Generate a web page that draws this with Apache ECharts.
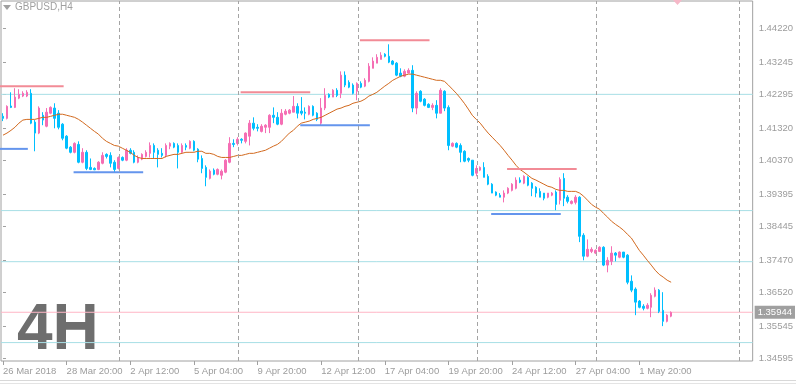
<!DOCTYPE html>
<html><head><meta charset="utf-8">
<script src="https://cdn.jsdelivr.net/npm/echarts@6/dist/echarts.min.js"></script>
<style>html,body{margin:0;padding:0;background:#fff}#c{width:796px;height:385px}</style>
</head><body><div id="c"></div>
<script>
// ---- data ----
const xLabels = ['26 Mar 2018','28 Mar 20:00','2 Apr 12:00','5 Apr 04:00','9 Apr 20:00','12 Apr 12:00','17 Apr 04:00','19 Apr 20:00','24 Apr 12:00','27 Apr 04:00','1 May 20:00'];
const labelEvery = 16;
const totalSlots = 189;
const yTicks = [1.44220,1.43245,1.42295,1.41320,1.40370,1.39395,1.38445,1.37470,1.36520,1.35545,1.34595];
// [open, close, low, high]
const candles = [
[1.4166,1.4160,1.4152,1.4175],[1.4160,1.4195,1.4157,1.4198],[1.4196,1.4192,1.4190,1.4236],[1.4192,1.4222,1.4190,1.4248],
[1.4219,1.4230,1.4216,1.4245],[1.4225,1.4233,1.4222,1.4239],[1.4225,1.4236,1.4222,1.4242],[1.4233,1.4146,1.4143,1.4245],
[1.4149,1.4117,1.4064,1.4155],[1.4117,1.4190,1.4114,1.4195],[1.4169,1.4155,1.4140,1.4178],[1.4137,1.4178,1.4134,1.4190],
[1.4175,1.4192,1.4172,1.4195],[1.4190,1.4160,1.4131,1.4204],[1.4175,1.4134,1.4128,1.4184],[1.4143,1.4102,1.4096,1.4146],
[1.4108,1.4073,1.4070,1.4111],[1.4076,1.4061,1.4058,1.4079],[1.4061,1.4087,1.4058,1.4090],[1.4084,1.4032,1.4029,1.4093],
[1.4032,1.4061,1.4029,1.4073],[1.4061,1.4014,1.4009,1.4067],[1.4017,1.4011,1.4009,1.4043],[1.4014,1.4010,1.4009,1.4017],
[1.4011,1.4032,1.4009,1.4035],[1.4029,1.4052,1.4026,1.4061],[1.4055,1.4049,1.4043,1.4058],[1.4052,1.4029,1.4017,1.4061],
[1.4032,1.4011,1.4003,1.4038],[1.4014,1.4046,1.4011,1.4049],[1.4046,1.4038,1.4035,1.4049],[1.4038,1.4067,1.4035,1.4073],
[1.4067,1.4058,1.4055,1.4073],[1.4061,1.4032,1.4029,1.4067],[1.4032,1.4046,1.4029,1.4052],[1.4041,1.4055,1.4038,1.4058],
[1.4049,1.4061,1.4046,1.4067],[1.4058,1.4081,1.4046,1.4090],[1.4081,1.4061,1.4043,1.4087],[1.4067,1.4055,1.4017,1.4073],
[1.4058,1.4052,1.4046,1.4073],[1.4052,1.4081,1.4046,1.4087],[1.4079,1.4087,1.4070,1.4090],[1.4087,1.4076,1.4073,1.4090],
[1.4081,1.4061,1.4014,1.4087],[1.4061,1.4081,1.4058,1.4087],[1.4081,1.4076,1.4067,1.4087],[1.4073,1.4093,1.4070,1.4096],
[1.4093,1.4067,1.4064,1.4096],[1.4070,1.4041,1.4032,1.4073],[1.4043,1.4014,1.4000,1.4052],[1.4017,1.3988,1.3962,1.4023],
[1.3985,1.4006,1.3982,1.4011],[1.4009,1.3997,1.3994,1.4014],[1.3997,1.4011,1.3994,1.4014],[1.3994,1.4006,1.3982,1.4011],
[1.4003,1.4038,1.4000,1.4041],[1.4032,1.4087,1.4029,1.4105],[1.4087,1.4084,1.4076,1.4099],[1.4087,1.4099,1.4081,1.4105],
[1.4099,1.4096,1.4087,1.4102],[1.4093,1.4117,1.4087,1.4119],[1.4108,1.4146,1.4081,1.4155],[1.4146,1.4131,1.4125,1.4163],
[1.4134,1.4131,1.4122,1.4143],[1.4122,1.4137,1.4119,1.4143],[1.4134,1.4140,1.4117,1.4143],[1.4134,1.4169,1.4117,1.4172],
[1.4169,1.4163,1.4146,1.4192],[1.4163,1.4143,1.4140,1.4178],[1.4143,1.4175,1.4140,1.4187],[1.4172,1.4181,1.4169,1.4187],
[1.4175,1.4184,1.4172,1.4187],[1.4178,1.4195,1.4178,1.4225],[1.4195,1.4175,1.4160,1.4204],[1.4181,1.4175,1.4169,1.4222],
[1.4178,1.4175,1.4157,1.4192],[1.4172,1.4195,1.4169,1.4198],[1.4195,1.4169,1.4166,1.4198],[1.4175,1.4157,1.4152,1.4178],
[1.4146,1.4190,1.4140,1.4219],[1.4190,1.4227,1.4184,1.4248],[1.4230,1.4222,1.4219,1.4233],[1.4222,1.4242,1.4222,1.4245],
[1.4242,1.4227,1.4222,1.4248],[1.4233,1.4286,1.4219,1.4297],[1.4286,1.4257,1.4251,1.4297],[1.4265,1.4251,1.4248,1.4271],
[1.4257,1.4233,1.4230,1.4262],[1.4239,1.4262,1.4213,1.4265],[1.4262,1.4251,1.4248,1.4268],[1.4254,1.4271,1.4251,1.4277],
[1.4268,1.4312,1.4265,1.4321],[1.4306,1.4327,1.4306,1.4338],[1.4321,1.4338,1.4321,1.4347],[1.4332,1.4344,1.4332,1.4353],
[1.4347,1.4341,1.4338,1.4350],[1.4341,1.4324,1.4321,1.4376],[1.4327,1.4318,1.4315,1.4330],[1.4321,1.4286,1.4283,1.4324],
[1.4292,1.4283,1.4280,1.4306],[1.4283,1.4297,1.4280,1.4303],[1.4292,1.4300,1.4292,1.4306],[1.4300,1.4190,1.4178,1.4315],
[1.4190,1.4233,1.4172,1.4239],[1.4239,1.4210,1.4207,1.4242],[1.4216,1.4198,1.4195,1.4219],[1.4201,1.4192,1.4190,1.4204],
[1.4192,1.4198,1.4184,1.4204],[1.4198,1.4175,1.4160,1.4213],[1.4175,1.4242,1.4175,1.4248],[1.4239,1.4190,1.4181,1.4242],
[1.4192,1.4081,1.4067,1.4198],[1.4079,1.4087,1.4076,1.4090],[1.4087,1.4076,1.4073,1.4090],[1.4081,1.4061,1.4032,1.4087],
[1.4064,1.4035,1.4032,1.4067],[1.4043,1.4038,1.4032,1.4046],[1.4038,1.3994,1.3991,1.4038],[1.4000,1.4014,1.3991,1.4023],
[1.4009,1.4017,1.4006,1.4020],[1.4017,1.3988,1.3988,1.4032],[1.3991,1.3968,1.3965,1.3997],[1.3968,1.3942,1.3942,1.3971],
[1.3945,1.3936,1.3933,1.3947],[1.3936,1.3930,1.3930,1.3942],[1.3930,1.3942,1.3915,1.3950],[1.3942,1.3956,1.3939,1.3959],
[1.3950,1.3968,1.3947,1.3971],[1.3956,1.3980,1.3953,1.3988],[1.3980,1.3974,1.3971,1.3988],[1.3971,1.3991,1.3968,1.3994],
[1.3988,1.3965,1.3962,1.3991],[1.3971,1.3956,1.3933,1.3974],[1.3959,1.3942,1.3930,1.3962],[1.3947,1.3930,1.3930,1.3956],
[1.3942,1.3927,1.3921,1.3942],[1.3930,1.3942,1.3927,1.3942],[1.3936,1.3942,1.3933,1.3945],[1.3945,1.3909,1.3892,1.3950],
[1.3921,1.3982,1.3909,1.3988],[1.3985,1.3927,1.3904,1.4000],[1.3930,1.3918,1.3912,1.3936],[1.3912,1.3918,1.3909,1.3921],
[1.3915,1.3930,1.3909,1.3936],[1.3930,1.3816,1.3799,1.3933],[1.3819,1.3758,1.3746,1.3825],[1.3758,1.3778,1.3755,1.3807],
[1.3772,1.3778,1.3767,1.3784],[1.3767,1.3775,1.3764,1.3778],[1.3772,1.3784,1.3770,1.3787],[1.3784,1.3732,1.3729,1.3787],
[1.3732,1.3746,1.3711,1.3755],[1.3743,1.3767,1.3732,1.3787],[1.3767,1.3761,1.3743,1.3770],[1.3755,1.3770,1.3752,1.3772],
[1.3770,1.3755,1.3752,1.3770],[1.3761,1.3682,1.3676,1.3764],[1.3685,1.3659,1.3653,1.3702],[1.3662,1.3624,1.3586,1.3667],
[1.3627,1.3609,1.3606,1.3630],[1.3612,1.3606,1.3600,1.3618],[1.3606,1.3615,1.3603,1.3621],[1.3609,1.3644,1.3580,1.3650],
[1.3641,1.3659,1.3638,1.3667],[1.3659,1.3597,1.3592,1.3662],[1.3600,1.3568,1.3554,1.3653],[1.3568,1.3586,1.3565,1.3589],
[1.3583,1.3594,1.3580,1.3597]
];
const ma = [
1.4111,1.4117,1.4125,1.4134,1.4146,1.4155,1.4157,1.4157,1.4157,1.4160,1.4163,1.4163,1.4166,1.4169,1.4172,1.4172,1.4169,1.4166,1.4163,1.4157,
1.4149,1.4140,1.4131,1.4122,1.4114,1.4102,1.4093,1.4087,1.4081,1.4079,1.4073,1.4067,1.4061,1.4052,1.4046,1.4043,1.4043,1.4043,1.4043,1.4043,
1.4043,1.4049,1.4052,1.4055,1.4055,1.4058,1.4061,1.4061,1.4061,1.4064,1.4064,1.4058,1.4058,1.4055,1.4049,1.4046,1.4046,1.4046,1.4049,1.4052,
1.4052,1.4055,1.4058,1.4058,1.4061,1.4064,1.4067,1.4073,1.4079,1.4084,1.4093,1.4105,1.4117,1.4125,1.4137,1.4146,1.4149,1.4152,1.4157,1.4160,
1.4163,1.4169,1.4175,1.4181,1.4187,1.4190,1.4195,1.4198,1.4204,1.4207,1.4210,1.4216,1.4225,1.4230,1.4236,1.4245,1.4254,1.4262,1.4271,1.4277,
1.4283,1.4286,1.4289,1.4289,1.4286,1.4283,1.4280,1.4277,1.4274,1.4271,1.4271,1.4268,1.4257,1.4245,1.4233,1.4219,1.4204,1.4187,1.4169,1.4157,
1.4146,1.4131,1.4117,1.4105,1.4093,1.4081,1.4067,1.4052,1.4038,1.4023,1.4011,1.4003,1.3994,1.3985,1.3980,1.3974,1.3968,1.3962,1.3959,1.3953,
1.3950,1.3950,1.3947,1.3947,1.3947,1.3942,1.3933,1.3921,1.3909,1.3901,1.3895,1.3883,1.3872,1.3860,1.3851,1.3843,1.3834,1.3822,1.3811,1.3793,
1.3775,1.3761,1.3746,1.3732,1.3717,1.3705,1.3697,1.3688,1.3682
];
// [price, fromBar, toBar]
const resistance = [[1.4254,-1,15.25],[1.4236,59.75,77.25],[1.4388,89.75,107.25],[1.4012,126.75,144.25]];
const support = [[1.4071,-1,6.25],[1.4003,17.75,35.25],[1.4140,74.75,92.25],[1.3881,122.75,140.25]];
const hLevels = [1.4230,1.3891,1.3742,1.3506];
const lastPrice = 1.35944;
const separators = [29,59,89,119,149,185];
const yMin = 1.34523, yMax = 1.45023;

// ---- chart ----
const UP = '#f56eb4', DOWN = '#00bfff', TXT = '#9c9c9c', AX = '#a0a0a0';
const categories = Array.from({length: totalSlots}, (_, i) => (i % labelEvery === 0 && xLabels[i / labelEvery]) ? xLabels[i / labelEvery] : '');
const isLab = (i) => i % labelEvery === 0 && i / labelEvery < xLabels.length;
const chart = echarts.init(document.getElementById('c'), null, {renderer: 'canvas'});
const xMin = -0.5, xMax = totalSlots - 0.5;
const series = [];
// full-width horizontal levels (drawn as plain lines across the value x-axis)
hLevels.forEach(v => series.push({type: 'line', xAxisIndex: 1, symbol: 'none', z: 1, silent: true,
  data: [[xMin, v], [xMax, v]], lineStyle: {color: '#a8dfe6', width: 1}}));
series.push({type: 'line', xAxisIndex: 1, symbol: 'none', z: 1, silent: true,
  data: [[xMin, lastPrice], [xMax, lastPrice]], lineStyle: {color: '#ffb6c6', width: 1},
  endLabel: {show: true, formatter: lastPrice.toFixed(5), color: '#fff', backgroundColor: '#a0a0a0',
    padding: [2, 3, 1, 3], fontSize: 9.5, fontFamily: 'Liberation Sans', distance: 2}
});
series.push({
  type: 'line', xAxisIndex: 1, data: [], z: 1, silent: true,
  markLine: {
    silent: true, symbol: ['none','none'], animation: false, precision: 6, label: {show: false},
    lineStyle: {color: '#a4a4a4', width: 1, type: [4, 3]},
    data: separators.map(b => ({xAxis: b + 0.25}))
  }
});
series.push({
  type: 'candlestick', data: candles, barWidth: 2, z: 2,
  itemStyle: {color: UP, color0: DOWN, borderColor: UP, borderColor0: DOWN, borderWidth: 1}
});
series.push({
  type: 'line', data: ma, symbol: 'none', z: 3, silent: true,
  lineStyle: {color: '#d2691e', width: 1}
});
resistance.forEach(r => series.push({type: 'line', xAxisIndex: 1, symbol: 'none', z: 3, silent: true,
  data: [[r[1], r[0]], [r[2], r[0]]], lineStyle: {color: '#f28b96', width: 2}}));
support.forEach(r => series.push({type: 'line', xAxisIndex: 1, symbol: 'none', z: 3, silent: true,
  data: [[r[1], r[0]], [r[2], r[0]]], lineStyle: {color: '#6495ed', width: 2}}));

chart.setOption({
  animation: false,
  backgroundColor: '#ffffff',
  grid: {left: -2, right: 42, top: 1, bottom: 24, show: true, borderColor: AX, borderWidth: 1},
  xAxis: [{
    type: 'category', data: categories, boundaryGap: true,
    axisLine: {show: false},
    axisTick: {show: true, alignWithLabel: true, interval: (i) => isLab(i), length: 4, lineStyle: {color: AX}},
    axisLabel: {show: true, interval: (i) => isLab(i), align: 'left', margin: 5, color: TXT, fontSize: 9.5, fontFamily: 'Liberation Sans'},
    splitLine: {show: false}
  }, {
    type: 'value', min: xMin, max: xMax, show: false
  }],
  yAxis: {
    type: 'value', position: 'right', min: yMin, max: yMax,
    axisLine: {show: false},
    axisTick: {show: true, customValues: yTicks, length: 3, lineStyle: {color: AX}},
    axisLabel: {customValues: yTicks, formatter: (v) => v.toFixed(5), margin: 6, color: TXT, fontSize: 9.5, fontFamily: 'Liberation Sans'},
    splitLine: {show: false}
  },
  graphic: [
    {type: 'polygon', shape: {points: [[3, 5], [11, 5], [7, 10]]}, style: {fill: '#a0a0a0'}},
    {type: 'text', x: 15, y: 7.5, style: {text: 'GBPUSD,H4', fill: '#a0a0a0', font: '10px "Liberation Sans"', verticalAlign: 'middle'}},
    {type: 'text', x: 17, y: 331, style: {text: '4H', fill: '#6e6e6e', font: 'bold 64px "Liberation Sans"', verticalAlign: 'middle'}},
    {type: 'polygon', shape: {points: [[673, 0], [682, 0], [677.5, 5]]}, style: {fill: '#f6b8c8'}},
    {type: 'rect', shape: {x: 0, y: 380, width: 796, height: 1}, style: {fill: '#d8d8d8'}},
    {type: 'rect', shape: {x: 0, y: 383, width: 796, height: 1}, style: {fill: '#e4e4e4'}}
  ],
  series: series
});
</script>
</body></html>
